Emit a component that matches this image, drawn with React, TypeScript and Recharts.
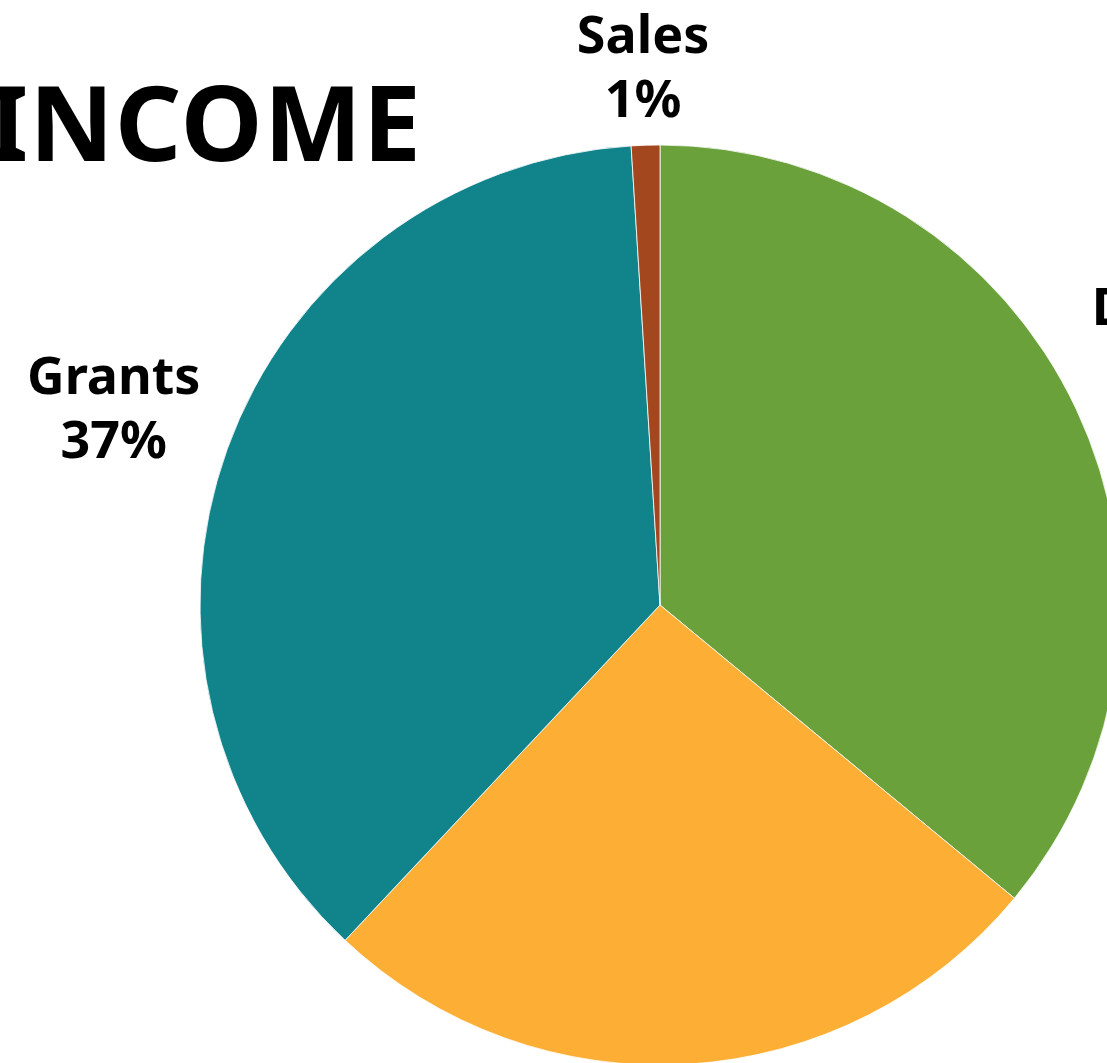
import React from "react";
import { PieChart, Pie, Cell } from "recharts";

// === DATA ===
const categories = ["Donations", "Events", "Grants", "Sales"];
const shares = [36, 26, 37, 1];
const sliceColors = ["#6aa13b", "#fcaf34", "#11838a", "#a3471e"];

const pieData = categories.map((name, i) => ({ name, value: shares[i] }));

const FONT = "'Noto Sans', sans-serif";
const LABEL_SIZE = 52;
const LINE_H = 64;
const GAP = 20;
const RAD = Math.PI / 180;

let ctx: CanvasRenderingContext2D | null = null;
const textWidth = (t: string) => {
  if (!ctx) ctx = document.createElement("canvas").getContext("2d");
  if (!ctx) return t.length * LABEL_SIZE * 0.55;
  ctx.font = `700 ${LABEL_SIZE}px 'Noto Sans'`;
  return ctx.measureText(t).width;
};

// label box sits just outside the pie along the slice's middle angle
const renderLabel = (props: any) => {
  const { cx, cy, midAngle, outerRadius, name, value } = props;
  const pct = `${value}%`;
  const halfW = Math.max(textWidth(name), textWidth(pct)) / 2;
  const halfH = LINE_H;
  const dx = Math.cos(-midAngle * RAD);
  const dy = Math.sin(-midAngle * RAD);
  const r = outerRadius + GAP + halfW * Math.abs(dx) + (halfH - 8) * Math.abs(dy);
  const x = cx + r * dx;
  const y = cy + r * dy;
  return (
    <text
      x={x}
      y={y}
      textAnchor="middle"
      fill="#000"
      style={{ fontFamily: FONT, fontWeight: 700, fontSize: LABEL_SIZE }}
    >
      <tspan x={x} dy={-LINE_H / 2 + 18}>{name}</tspan>
      <tspan x={x} dy={LINE_H}>{pct}</tspan>
    </text>
  );
};

const App: React.FC = () => {
  return (
    <div
      style={{
        position: "fixed",
        top: 0,
        left: 0,
        width: 1107,
        height: 1063,
        overflow: "hidden",
        background: "#fff",
      }}
    >
      <div
        style={{
          position: "absolute",
          right: 1107 - 422,
          top: 51,
          fontFamily: FONT,
          fontWeight: 700,
          fontSize: 104,
          letterSpacing: 1,
          lineHeight: "140px",
          color: "#000",
          whiteSpace: "nowrap",
        }}
      >
        INCOME
      </div>
      <PieChart
        width={1107}
        height={1063}
        margin={{ top: 0, right: 0, bottom: 0, left: 0 }}
        style={{ position: "absolute", top: 0, left: 0 }}
      >
        <Pie
          data={pieData}
          dataKey="value"
          nameKey="name"
          cx={660}
          cy={605}
          outerRadius={460}
          startAngle={90}
          endAngle={-270}
          stroke="#ffffff"
          strokeWidth={0.8}
          label={renderLabel}
          labelLine={false}
          isAnimationActive={false}
        >
          {pieData.map((d, i) => (
            <Cell key={d.name} fill={sliceColors[i]} />
          ))}
        </Pie>
      </PieChart>
    </div>
  );
};

export default App;
